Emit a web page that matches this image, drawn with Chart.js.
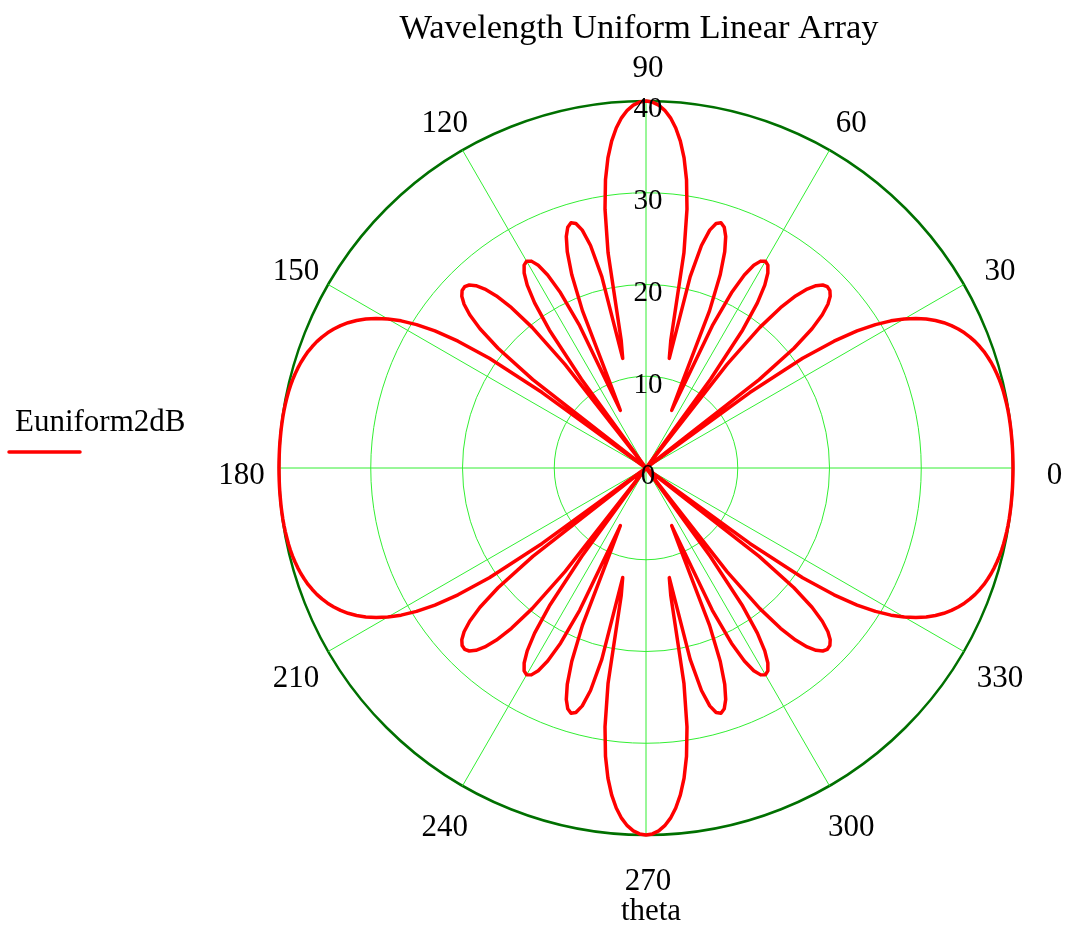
<!DOCTYPE html>
<html>
<head>
<meta charset="utf-8">
<title>Wavelength Uniform Linear Array</title>
<script src="https://cdn.jsdelivr.net/npm/chart.js@4"></script>
<style>
  html, body { margin: 0; padding: 0; background: #ffffff; }
  #wrap { width: 1066px; height: 926px; }
</style>
</head>
<body>
<div id="wrap"><canvas id="pattern" width="1066" height="926"></canvas></div>
<script>
// Array factor in dB (floor at 0), sampled every degree of theta.
// theta = 0 .. 90
const gain0to90 = [
  40.00, 40.00, 40.00, 40.00, 40.00, 39.99, 39.99, 39.98, 39.97, 39.95,
  39.92, 39.88, 39.84, 39.78, 39.70, 39.60, 39.48, 39.34, 39.16, 38.96,
  38.71, 38.43, 38.09, 37.70, 37.25, 36.73, 36.12, 35.41, 34.59, 33.63,
  32.50, 31.14, 29.49, 27.43, 24.72, 20.84, 13.99, 0, 15.65, 20.75,
  23.62, 25.46, 26.68, 27.45, 27.86, 27.95, 27.73, 27.17, 26.25, 24.85,
  22.81, 19.72, 14.34, 0, 11.96, 18.37, 21.71, 23.77, 25.06, 25.79,
  26.02, 25.78, 25.02, 23.61, 21.25, 17.11, 6.88, 9.78, 18.50, 22.59,
  25.09, 26.68, 27.60, 27.96, 27.73, 26.84, 24.99, 21.41, 12.21, 14.15,
  23.81, 28.56, 31.73, 34.05, 35.83, 37.20, 38.26, 39.04, 39.58, 39.89,
  40.00
];
// theta = 91 .. 180
const gain91to180 = [
  39.89, 39.58, 39.04, 38.26, 37.20, 35.83, 34.05, 31.73, 28.56, 23.81,
  14.15, 12.21, 21.41, 24.99, 26.84, 27.73, 27.96, 27.60, 26.68, 25.09,
  22.59, 18.50, 9.78, 6.88, 17.11, 21.25, 23.61, 25.02, 25.78, 26.02,
  25.79, 25.06, 23.77, 21.71, 18.37, 11.96, 0, 14.34, 19.72, 22.81,
  24.85, 26.25, 27.17, 27.73, 27.95, 27.86, 27.45, 26.68, 25.46, 23.62,
  20.75, 15.65, 0, 13.99, 20.84, 24.72, 27.43, 29.49, 31.14, 32.50,
  33.63, 34.59, 35.41, 36.12, 36.73, 37.25, 37.70, 38.09, 38.43, 38.71,
  38.96, 39.16, 39.34, 39.48, 39.60, 39.70, 39.78, 39.84, 39.88, 39.92,
  39.95, 39.97, 39.98, 39.99, 39.99, 40.00, 40.00, 40.00, 40.00, 40.00
];
// theta = 181 .. 270
const gain181to270 = [
  40.00, 40.00, 40.00, 40.00, 39.99, 39.99, 39.98, 39.97, 39.95, 39.92,
  39.88, 39.84, 39.78, 39.70, 39.60, 39.48, 39.34, 39.16, 38.96, 38.71,
  38.43, 38.09, 37.70, 37.25, 36.73, 36.12, 35.41, 34.59, 33.63, 32.50,
  31.14, 29.49, 27.43, 24.72, 20.84, 13.99, 0, 15.65, 20.75, 23.62,
  25.46, 26.68, 27.45, 27.86, 27.95, 27.73, 27.17, 26.25, 24.85, 22.81,
  19.72, 14.34, 0, 11.96, 18.37, 21.71, 23.77, 25.06, 25.79, 26.02,
  25.78, 25.02, 23.61, 21.25, 17.11, 6.88, 9.78, 18.50, 22.59, 25.09,
  26.68, 27.60, 27.96, 27.73, 26.84, 24.99, 21.41, 12.21, 14.15, 23.81,
  28.56, 31.73, 34.05, 35.83, 37.20, 38.26, 39.04, 39.58, 39.89, 40.00
];
// theta = 271 .. 359
const gain271to359 = [
  39.89, 39.58, 39.04, 38.26, 37.20, 35.83, 34.05, 31.73, 28.56, 23.81,
  14.15, 12.21, 21.41, 24.99, 26.84, 27.73, 27.96, 27.60, 26.68, 25.09,
  22.59, 18.50, 9.78, 6.88, 17.11, 21.25, 23.61, 25.02, 25.78, 26.02,
  25.79, 25.06, 23.77, 21.71, 18.37, 11.96, 0, 14.34, 19.72, 22.81,
  24.85, 26.25, 27.17, 27.73, 27.95, 27.86, 27.45, 26.68, 25.46, 23.62,
  20.75, 15.65, 0, 13.99, 20.84, 24.72, 27.43, 29.49, 31.14, 32.50,
  33.63, 34.59, 35.41, 36.12, 36.73, 37.25, 37.70, 38.09, 38.43, 38.71,
  38.96, 39.16, 39.34, 39.48, 39.60, 39.70, 39.78, 39.84, 39.88, 39.92,
  39.95, 39.97, 39.98, 39.99, 39.99, 40.00, 40.00, 40.00, 40.00
];

const angleTicks = [0, 30, 60, 90, 120, 150, 180, 210, 240, 270, 300, 330];
const radialTicks = [0, 10, 20, 30, 40];
const titleText = 'Wavelength Uniform Linear Array';
const seriesName = 'Euniform2dB';
const axisName = 'theta';

const gainDb = [...gain0to90, ...gain91to180, ...gain181to270, ...gain271to359];

// The radial scale runs clockwise from the top, so spoke i carries theta = 90 - i.
const spokeAngles = gainDb.map((_, i) => (90 - i + 360) % 360);
const spokeValues = spokeAngles.map(a => gainDb[a]);

const SERIF = '"Liberation Serif", "Times New Roman", serif';
const RED = '#ff0000';

// Mathcad-style text: title, rim angles, ring values, axis name and legend.
const polarText = {
  id: 'polarText',
  afterDraw(chart) {
    const ctx = chart.ctx;
    const r = chart.scales.r;
    const cx = r.xCenter, cy = r.yCenter, R = r.drawingArea;
    ctx.save();
    ctx.fillStyle = '#000000';
    ctx.textBaseline = 'alphabetic';
    ctx.textAlign = 'center';

    ctx.font = '34.5px ' + SERIF;
    ctx.fillText(titleText, 639, 38);

    const labelSize = 31;
    ctx.font = labelSize + 'px ' + SERIF;
    angleTicks.forEach(a => {
      const p = r.getPointPosition(spokeAngles.indexOf(a), R + 39.5);
      ctx.fillText(String(a), p.x + 2, p.y + 5 + 0.34 * labelSize);
    });

    const tickSize = 29;
    ctx.font = tickSize + 'px ' + SERIF;
    radialTicks.forEach(v => {
      const d = r.getDistanceFromCenterForValue(v);
      ctx.fillText(String(v), cx + 2, cy - d + 6.5 + 0.34 * tickSize);
    });

    ctx.font = labelSize + 'px ' + SERIF;
    ctx.fillText(axisName, 651, 920);

    ctx.textAlign = 'left';
    ctx.fillText(seriesName, 15, 431);
    ctx.strokeStyle = RED;
    ctx.lineWidth = 3.5;
    ctx.lineCap = 'round';
    ctx.beginPath();
    ctx.moveTo(9, 452);
    ctx.lineTo(80, 452);
    ctx.stroke();
    ctx.restore();
  }
};

new Chart(document.getElementById('pattern'), {
  type: 'radar',
  data: {
    labels: spokeAngles,
    datasets: [{
      label: seriesName,
      data: spokeValues,
      borderColor: RED,
      borderWidth: 3.5,
      borderJoinStyle: 'round',
      borderCapStyle: 'round',
      pointRadius: 0,
      pointHoverRadius: 0,
      fill: false,
      tension: 0
    }]
  },
  options: {
    responsive: false,
    animation: false,
    events: [],
    layout: { padding: { left: 279, right: 52, top: 101, bottom: 90 } },
    plugins: {
      legend: { display: false },
      title: { display: false },
      tooltip: { enabled: false }
    },
    scales: {
      r: {
        min: 0,
        max: 40,
        startAngle: 0,
        ticks: { display: false, stepSize: 10 },
        pointLabels: { display: false },
        grid: {
          circular: true,
          color: ctx => ctx.tick && ctx.tick.value === 40 ? '#007000' : '#33ee33',
          lineWidth: ctx => ctx.tick && ctx.tick.value === 40 ? 2.5 : 1
        },
        angleLines: {
          display: true,
          color: '#33ee33',
          lineWidth: ctx => (ctx.index % 30 === 0 ? 1 : 0)
        }
      }
    }
  },
  plugins: [polarText]
});
</script>
</body>
</html>
